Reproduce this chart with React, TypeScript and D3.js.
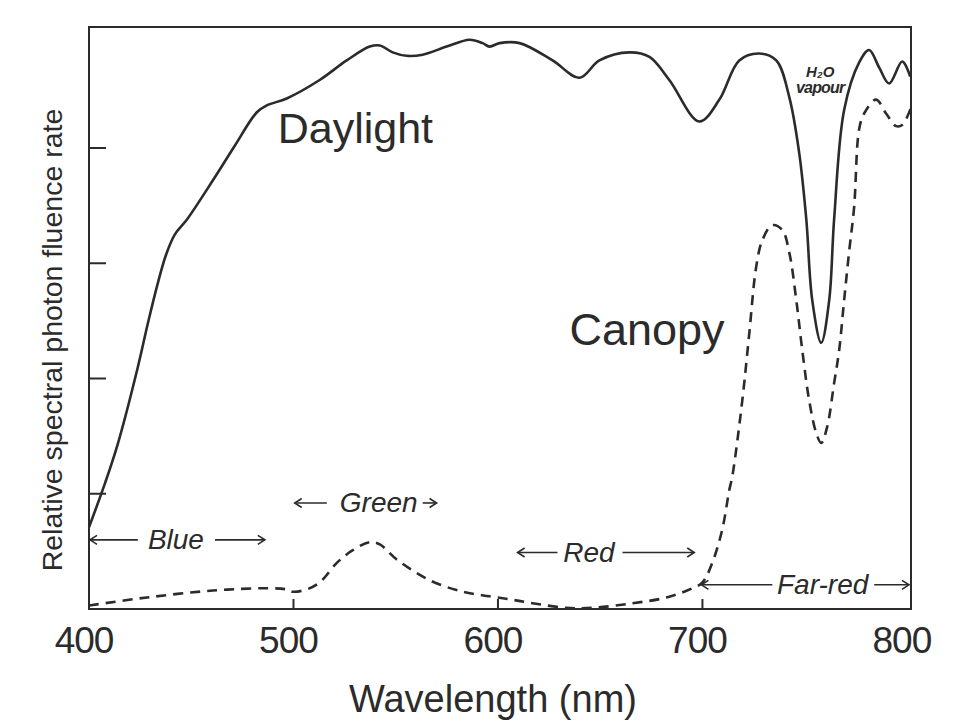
import React from "react";
import * as d3 from "d3";

// Daylight spectrum (wavelength nm, relative value)
const daylightWl = [400, 407.8, 414.2, 423.9, 428.8, 433.7, 437.6, 442, 447.9, 460.6, 471.3, 482.1, 487, 496.7, 512.8, 526, 537.3, 542.2, 548.5, 555.3, 563.2, 574.9, 586.1, 592.5, 595.9, 600.8, 610.6, 626.7, 639.9, 649.6, 664.3, 674.1, 683.8, 698.5, 708.3, 718, 727.8, 736.1, 742.5, 747.3, 750.8, 753.7, 758.1, 762, 764.4, 769.3, 776.6, 781.5, 786.4, 791.3, 797.7, 801.6];
const daylightVal = [0.71, 1.09, 1.44, 2.1, 2.48, 2.83, 3.07, 3.25, 3.38, 3.72, 4.02, 4.31, 4.37, 4.43, 4.59, 4.76, 4.88, 4.89, 4.83, 4.8, 4.81, 4.88, 4.94, 4.91, 4.88, 4.91, 4.91, 4.76, 4.61, 4.76, 4.83, 4.79, 4.59, 4.23, 4.42, 4.76, 4.82, 4.76, 4.44, 3.96, 3.38, 2.68, 2.31, 2.68, 3.38, 4.33, 4.74, 4.85, 4.7, 4.56, 4.75, 4.62];

// Canopy spectrum
const canopyWl = [400, 428.3, 460.6, 487, 496.7, 499.7, 506.5, 512.8, 521.2, 529, 537.3, 542.2, 550.5, 566.6, 582.7, 595.9, 607.1, 616.9, 633.5, 646.2, 665.8, 682.4, 695.1, 700, 704.8, 709.7, 713.1, 714.6, 719.5, 722.9, 726.3, 729.3, 734.1, 739, 742.5, 745.9, 748.8, 752.2, 755.6, 758.1, 761, 764.4, 766.9, 769.3, 771.8, 774.2, 776.6, 779.1, 784.9, 789.8, 794.7, 797.7, 802];
const canopyVal = [0.03, 0.1, 0.16, 0.18, 0.17, 0.15, 0.17, 0.23, 0.4, 0.51, 0.58, 0.56, 0.43, 0.25, 0.15, 0.11, 0.08, 0.05, 0.01, 0.01, 0.05, 0.1, 0.18, 0.23, 0.4, 0.69, 1.03, 1.15, 1.81, 2.39, 2.97, 3.2, 3.33, 3.29, 3.09, 2.68, 2.25, 1.81, 1.53, 1.44, 1.58, 1.96, 2.25, 2.68, 3.11, 3.49, 4.16, 4.3, 4.42, 4.3, 4.19, 4.2, 4.35];

const xTickValues = [400, 500, 600, 700, 800];
const yTickValues = [1, 2, 3, 4];

const bandNames = ["Blue", "Green", "Red", "Far-red"];

const INK = "#2b2b2b";
const FONT = "'Liberation Sans', Arial, sans-serif";

export default function App() {
  const width = 967;
  const height = 727;
  const left = 89;
  const right = 911;
  const top = 27;
  const bottom = 609;

  const x = d3.scaleLinear().domain([400, 802]).range([left, right]);
  const y = d3.scaleLinear().domain([0, 5.05]).range([bottom, top]);

  const line = d3
    .line<[number, number]>()
    .x((d) => x(d[0]))
    .y((d) => y(d[1]))
    .curve(d3.curveCatmullRom.alpha(0.5));

  const daylight: [number, number][] = daylightWl.map((w, i) => [w, daylightVal[i]]);
  const canopy: [number, number][] = canopyWl.map((w, i) => [w, canopyVal[i]]);

  // band annotations: [leftArrowFrom, leftArrowTo, textCenter, rightArrowFrom, rightArrowTo, level]
  const bands: [number, number, number, number, number, number][] = [
    [400.5, 423.9, 442.5, 461.6, 486, 0.6],
    [500.6, 516.3, 541.7, 563.2, 570, 0.92],
    [609.6, 629.1, 644.5, 660.9, 696, 0.49],
    [699.5, 734.2, 758.8, 784, 801, 0.21],
  ];

  const arrowHead = (px: number, py: number, dir: number) =>
    `M${px - dir * 7},${py - 4.5} L${px},${py} L${px - dir * 7},${py + 4.5}`;

  return (
    <svg
      width={width}
      height={height}
      style={{ position: "absolute", left: 0, top: 0, background: "#fff" }}
    >
      {/* frame */}
      <rect
        x={left}
        y={top}
        width={right - left}
        height={bottom - top}
        fill="none"
        stroke={INK}
        strokeWidth={2}
      />
      {/* y ticks */}
      {yTickValues.map((v) => (
        <line key={"yt" + v} x1={left} x2={left + 17} y1={y(v)} y2={y(v)} stroke={INK} strokeWidth={2} />
      ))}
      {/* x ticks */}
      {xTickValues
        .filter((v) => v > 400 && v < 800)
        .map((v) => (
          <line key={"xt" + v} x1={x(v)} x2={x(v)} y1={bottom} y2={bottom - 10} stroke={INK} strokeWidth={2} />
        ))}
      {/* x tick labels */}
      {xTickValues.map((v) => (
        <text
          key={"xl" + v}
          x={x(v) - 5}
          y={653}
          textAnchor="middle"
          fontFamily={FONT}
          fontSize={37}
          letterSpacing={-1}
          fill={INK}
        >
          {v}
        </text>
      ))}
      {/* axis titles */}
      <text x={493} y={712} textAnchor="middle" fontFamily={FONT} fontSize={38} fill={INK}>
        Wavelength (nm)
      </text>
      <text
        transform={`translate(62, 340) rotate(-90)`}
        textAnchor="middle"
        fontFamily={FONT}
        fontSize={28.5}
        fill={INK}
      >
        Relative spectral photon fluence rate
      </text>

      {/* curves */}
      <path d={line(daylight) || ""} fill="none" stroke={INK} strokeWidth={2.6} strokeLinejoin="round" />
      <path
        d={line(canopy) || ""}
        fill="none"
        stroke={INK}
        strokeWidth={2.6}
        strokeDasharray="10 7"
      />

      {/* curve labels */}
      <text x={x(492.3)} y={y(4.04)} fontFamily={FONT} fontSize={43} fill={INK}>
        Daylight
      </text>
      <text x={x(635)} y={y(2.29)} fontFamily={FONT} fontSize={45} fill={INK}>
        Canopy
      </text>
      <text
        x={x(757.6)}
        y={y(4.62)}
        textAnchor="middle"
        fontFamily={FONT}
        fontSize={15}
        fontStyle="italic"
        fontWeight="bold"
        fill={INK}
      >
        {"H\u2082O"}
      </text>
      <text
        x={x(757.6)}
        y={y(4.48)}
        textAnchor="middle"
        fontFamily={FONT}
        fontSize={16}
        fontStyle="italic"
        fontWeight="bold"
        letterSpacing={-0.8}
        fill={INK}
      >
        vapour
      </text>

      {/* band annotations */}
      {bands.map((b, i) => {
        const yy = y(b[5]);
        return (
          <g key={"band" + i} stroke={INK} strokeWidth={1.6} fill="none">
            <line x1={x(b[0])} x2={x(b[1])} y1={yy} y2={yy} />
            <path d={arrowHead(x(b[0]), yy, -1)} />
            <line x1={x(b[3])} x2={x(b[4])} y1={yy} y2={yy} />
            <path d={arrowHead(x(b[4]), yy, 1)} />
            <text
              x={x(b[2])}
              y={yy + 9}
              textAnchor="middle"
              fontFamily={FONT}
              fontSize={28}
              fontStyle="italic"
              fill={INK}
              stroke="none"
            >
              {bandNames[i]}
            </text>
          </g>
        );
      })}
    </svg>
  );
}
